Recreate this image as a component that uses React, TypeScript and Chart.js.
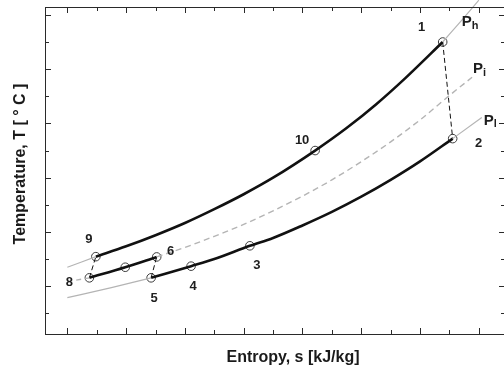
import React, { useEffect, useRef } from "react";
import { Chart, registerables } from "chart.js";

Chart.register(...registerables);

// ---- Data (entropy s, temperature T in arbitrary axis units) ----
// High-pressure isobar P_h
const phLeftS = [0, 0.97];
const phLeftT = [1.7, 2.09];
const phHeatS = [0.97, 2, 3, 4, 5, 6, 7, 8.43, 9.5, 10.5, 11.5, 12.77];
const phHeatT = [2.09, 2.47, 2.88, 3.33, 3.84, 4.39, 5.0, 6.0, 6.83, 7.7, 8.67, 10.0];
const phRightS = [12.77, 13.4, 14.0];
const phRightT = [10.0, 10.78, 11.54];

// Intermediate isobar P_i
const piLeftS = [0, 0.75];
const piLeftT = [1.17, 1.31];
const piCoolS = [0.75, 1.97, 3.04];
const piCoolT = [1.31, 1.7, 2.08];
const piRightS = [3.04, 4, 5, 6, 7, 8, 9, 10, 11, 12, 13, 13.77];
const piRightT = [2.08, 2.43, 2.84, 3.28, 3.78, 4.32, 4.92, 5.59, 6.32, 7.13, 8.03, 8.7];

// Low-pressure isobar P_l
const plLeftS = [0, 1.5, 2.85];
const plLeftT = [0.58, 0.95, 1.31];
const plHeatS = [2.85, 4.21, 5, 6.21, 7, 8, 9, 10, 11, 12, 13.11];
const plHeatT = [1.31, 1.74, 2.0, 2.49, 2.78, 3.24, 3.74, 4.3, 4.92, 5.6, 6.44];
const plRightS = [13.11, 14.1];
const plRightT = [6.44, 7.22];

// State points
const stateNames = ["1", "2", "3", "4", "5", "6", "", "8", "9", "10"];
const stateS = [12.77, 13.11, 6.21, 4.21, 2.85, 3.04, 1.97, 0.75, 0.97, 8.43];
const stateT = [10.0, 6.44, 2.49, 1.74, 1.31, 2.08, 1.7, 1.31, 2.09, 6.0];

// Dashed process connectors (pairs of state indices)
const connectorFrom = [0, 4, 7];
const connectorTo = [1, 5, 8];

// Axis ticks (no labels)
const xTicks = [0, 1, 2, 3, 4, 5, 6, 7, 8, 9, 10, 11, 12, 13, 14];
const yTicks = [0, 1, 2, 3, 4, 5, 6, 7, 8, 9, 10, 11];

// Isobar names
const isobarNames = ["h", "i", "l"];

// ---- label placement (pixel offsets from the related point) ----
const stateLabelOffsets: [number, number][] = [
  [-21, -15], [26, 5], [7, 20], [2, 20], [3, 21], [14, -6], [0, 0], [-20, 5], [-7, -17], [-13, -10],
];

const pts = (s: number[], t: number[]) => s.map((v, i) => ({ x: v, y: t[i] }));

const FONT = "'Liberation Sans', Arial, Helvetica, sans-serif";

export default function App() {
  const ref = useRef<HTMLCanvasElement | null>(null);

  useEffect(() => {
    if (!ref.current) return;

    const gray = "#b4b4b4";
    const black = "#111111";
    const base = {
      showLine: true,
      pointRadius: 0,
      pointHoverRadius: 0,
      fill: false,
      cubicInterpolationMode: "monotone" as const,
    };

    const datasets: any[] = [
      { ...base, data: pts(phLeftS, phLeftT), borderColor: gray, borderWidth: 1.2 },
      { ...base, data: pts(phRightS, phRightT), borderColor: gray, borderWidth: 1.2, clip: false },
      { ...base, data: pts(piLeftS, piLeftT), borderColor: gray, borderWidth: 1.4, borderDash: [5, 4] },
      { ...base, data: pts(piRightS, piRightT), borderColor: gray, borderWidth: 1.4, borderDash: [6, 4] },
      { ...base, data: pts(plLeftS, plLeftT), borderColor: gray, borderWidth: 1.2 },
      { ...base, data: pts(plRightS, plRightT), borderColor: gray, borderWidth: 1.2 },
      { ...base, data: pts(phHeatS, phHeatT), borderColor: black, borderWidth: 2.6 },
      { ...base, data: pts(piCoolS, piCoolT), borderColor: black, borderWidth: 2.6 },
      { ...base, data: pts(plHeatS, plHeatT), borderColor: black, borderWidth: 2.6 },
    ];
    connectorFrom.forEach((f, k) => {
      const t = connectorTo[k];
      datasets.push({
        ...base,
        cubicInterpolationMode: "default",
        tension: 0,
        data: [
          { x: stateS[f], y: stateT[f] },
          { x: stateS[t], y: stateT[t] },
        ],
        borderColor: black,
        borderWidth: 1,
        borderDash: [5, 3],
      });
    });
    datasets.push({
      showLine: false,
      data: pts(stateS, stateT),
      pointRadius: 4.3,
      pointHoverRadius: 4.3,
      pointStyle: "circle",
      pointBorderColor: "#3a3a3a",
      pointBackgroundColor: "rgba(0,0,0,0)",
      pointBorderWidth: 1,
    });

    const framePlugin = {
      id: "frame",
      afterDraw(chart: any) {
        const { ctx, chartArea: a, scales } = chart;
        const xs = scales.x;
        const ys = scales.y;
        ctx.save();
        ctx.strokeStyle = "#2a2a2a";
        ctx.lineWidth = 1;
        ctx.strokeRect(Math.round(a.left) + 0.5, Math.round(a.top) + 0.5, Math.round(a.right - a.left), Math.round(a.bottom - a.top));
        ctx.beginPath();
        xTicks.forEach((v, i) => {
          const px = Math.round(xs.getPixelForValue(v)) + 0.5;
          const len = i % 2 === 0 ? 6 : 4;
          ctx.moveTo(px, a.bottom);
          ctx.lineTo(px, a.bottom - len);
          ctx.moveTo(px, a.top);
          ctx.lineTo(px, a.top + len);
        });
        yTicks.forEach((v, i) => {
          const py = Math.round(ys.getPixelForValue(v)) + 0.5;
          const len = i % 2 === 1 ? 6 : 4;
          ctx.moveTo(a.left, py);
          ctx.lineTo(a.left + len, py);
          ctx.moveTo(a.right, py);
          ctx.lineTo(a.right - len, py);
        });
        ctx.stroke();

        // state labels
        ctx.fillStyle = "#1e1e1e";
        ctx.font = `bold 13px ${FONT}`;
        ctx.textAlign = "center";
        ctx.textBaseline = "middle";
        stateNames.forEach((n, i) => {
          if (!n) return;
          const px = xs.getPixelForValue(stateS[i]) + stateLabelOffsets[i][0];
          const py = ys.getPixelForValue(stateT[i]) + stateLabelOffsets[i][1];
          ctx.fillText(n, px, py);
        });

        // isobar labels P_h, P_i, P_l
        const ends = [
          { s: stateS[0], t: stateT[0], dx: 24, dy: -20 },
          { s: piRightS[piRightS.length - 1], t: piRightT[piRightT.length - 1], dx: 6, dy: -8 },
          { s: plRightS[plRightS.length - 1], t: plRightT[plRightT.length - 1], dx: 7, dy: 3 },
        ];
        ends.forEach((e, k) => {
          const px = xs.getPixelForValue(e.s) + e.dx;
          const py = ys.getPixelForValue(e.t) + e.dy;
          ctx.font = `bold 15px ${FONT}`;
          ctx.textAlign = "center";
          ctx.fillText("P", px, py);
          ctx.font = `bold 11px ${FONT}`;
          ctx.textAlign = "left";
          ctx.fillText(isobarNames[k], px + 5, py + 4);
        });

        // axis titles
        ctx.fillStyle = "#1a1a1a";
        ctx.font = `bold 16px ${FONT}`;
        ctx.textAlign = "center";
        ctx.textBaseline = "middle";
        ctx.fillText("Entropy, s [kJ/kg]", 293, 358);
        ctx.save();
        ctx.translate(21, 164);
        ctx.rotate(-Math.PI / 2);
        ctx.fillText("Temperature, T [ \u00B0 C ]", 0, 0);
        ctx.restore();
        ctx.restore();
      },
    };

    const chart = new Chart(ref.current, {
      type: "scatter",
      data: { datasets },
      options: {
        animation: false,
        responsive: false,
        maintainAspectRatio: false,
        layout: { padding: { left: 45, right: 7, top: 7, bottom: 36 } },
        plugins: { legend: { display: false }, tooltip: { enabled: false } },
        events: [],
        scales: {
          x: { type: "linear", min: -0.76, max: 14.89, display: false },
          y: { type: "linear", min: -0.76, max: 11.29, display: false },
        },
      },
      plugins: [framePlugin],
    });
    return () => chart.destroy();
  }, []);

  return (
    <div style={{ position: "fixed", left: 0, top: 0, width: 512, height: 370, background: "#fff" }}>
      <canvas ref={ref} width={512} height={370} style={{ display: "block" }} />
    </div>
  );
}
